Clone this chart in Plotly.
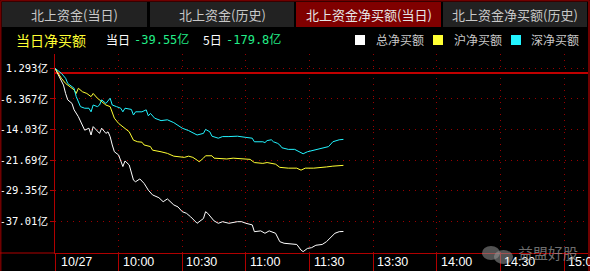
import plotly.graph_objects as go

# ---------------- data (minutes since 09:30 on a 240-minute trading axis, values in 亿) ----------------
total_min = [0, 3, 4, 5, 6, 8, 9, 11, 13, 14, 16, 17, 18, 20, 21, 22, 24, 25, 26, 27, 28, 30, 31, 32, 33, 35,
             37, 38, 40, 42, 44, 46, 49, 51, 53, 56, 58, 60, 62, 64, 67, 68, 70, 71, 72, 75, 77, 79, 82, 86,
             88, 90, 93, 94, 97, 99, 101, 104, 106, 108, 112, 114, 116, 117, 119, 121, 123, 126, 128, 130,
             132, 134, 136]
total_val = [1.29, -1.6, -2.9, -5.0, -6.6, -7.5, -9.1, -10.8, -12.9, -14.2, -13.7, -15.4, -13.3, -14.6, -15.0,
             -13.7, -15.0, -14.6, -15.8, -17.9, -19.6, -20.4, -22.1, -23.3, -21.9, -22.9, -26.7, -27.1, -26.4,
             -27.5, -29.2, -30.4, -31.1, -32.1, -31.4, -32.9, -33.4, -34.6, -35.0, -35.9, -37.5, -37.1, -36.3,
             -34.6, -35.0, -36.9, -37.5, -37.1, -37.5, -37.1, -37.1, -37.5, -37.9, -39.6, -39.4, -40.0, -39.4,
             -40.0, -42.1, -42.5, -42.8, -42.8, -44.2, -44.6, -43.8, -43.6, -43.0, -42.8, -42.1, -41.1, -40.0,
             -39.6, -39.55]

sh_min = [0, 3, 5, 7, 9, 10, 11, 13, 15, 17, 18, 20, 22, 24, 26, 27, 28, 30, 32, 34, 35, 37, 39, 41, 42, 45,
          46, 50, 53, 56, 60, 61, 63, 65, 67, 68, 70, 71, 74, 75, 81, 84, 92, 94, 98, 100, 104, 106, 110, 114,
          116, 118, 122, 125, 128, 131, 134, 136]
sh_val = [1.29, -1.2, -2.5, -3.3, -4.1, -5.0, -3.7, -4.6, -5.0, -5.8, -5.0, -6.2, -7.1, -7.9, -8.3, -10.0,
          -11.2, -12.5, -13.3, -14.1, -14.6, -16.7, -17.1, -17.2, -17.9, -18.3, -19.2, -19.6, -20.0, -20.7,
          -20.8, -21.0, -20.7, -21.0, -21.7, -22.1, -21.2, -20.6, -20.6, -21.2, -21.4, -21.2, -21.5, -22.3,
          -22.5, -22.3, -22.7, -23.5, -23.7, -23.7, -24.2, -23.7, -23.7, -23.6, -23.4, -23.2, -23.1, -23.0]

sz_min = [0, 3, 5, 6, 8, 9, 10, 12, 14, 16, 17, 18, 20, 21, 22, 24, 26, 27, 29, 31, 32, 33, 36, 37, 38, 41,
          43, 44, 45, 47, 50, 53, 56, 58, 60, 63, 65, 67, 70, 71, 73, 74, 77, 79, 82, 86, 90, 93, 94, 98, 99,
          100, 102, 103, 105, 106, 107, 110, 113, 116, 117, 119, 122, 125, 129, 131, 134, 136]
sz_val = [1.29, 0.04, -1.2, -2.5, -3.3, -3.7, -5.8, -8.3, -8.7, -8.7, -9.6, -7.9, -8.3, -7.9, -6.6, -7.5,
          -6.2, -7.9, -8.3, -8.7, -9.6, -8.7, -9.0, -10.4, -9.6, -9.6, -9.1, -10.6, -10.0, -11.2, -11.8,
          -11.6, -12.3, -12.9, -13.7, -14.3, -14.8, -15.4, -15.0, -14.0, -14.6, -15.7, -16.2, -15.8, -15.8,
          -15.7, -16.0, -16.2, -17.1, -17.1, -17.3, -16.8, -16.6, -17.1, -17.5, -17.9, -18.6, -19.0, -19.0,
          -19.7, -20.1, -19.6, -19.2, -18.7, -18.3, -17.1, -16.6, -16.5]

y_ticks = [1.293, -6.367, -14.03, -21.69, -29.35, -37.01]
y_ticklabels = ["1.293亿", "-6.367亿", "-14.03亿", "-21.69亿", "-29.35亿", "-37.01亿"]
x_ticks = [0, 30, 60, 90, 120, 150, 180, 210, 240]
x_ticklabels = ["10/27", "10:00", "10:30", "11:00", "11:30", "13:30", "14:00", "14:30", "15:00"]

tabs = ["北上资金(当日)", "北上资金(历史)", "北上资金净买额(当日)", "北上资金净买额(历史)"]
active_tab = 2
series_names = ["总净买额", "沪净买额", "深净买额"]
series_colors = ["#ffffff", "#ffff33", "#22f4ff"]
today_value = "-39.55亿"
five_day_value = "-179.8亿"

# ---------------- layout geometry ----------------
W, H = 590, 271
L, R, T, B = 55, 588, 54, 253


def px(x):
    return (x - L) / (R - L)


def py(y):
    return (B - y) / (B - T)


RED = "#b00000"
DOT = "#9a0000"
CJK = "Noto Sans CJK SC"

fig = go.Figure()
for xs, ys, name, col in zip([total_min, sh_min, sz_min], [total_val, sh_val, sz_val], series_names, series_colors):
    fig.add_trace(go.Scatter(x=xs, y=ys, mode="lines", name=name, showlegend=False,
                             line=dict(color=col, width=1)))

shapes = []
annotations = []

# outer frame (top/left/right)
for (x0, y0, x1, y1) in [(0.5, 0.5, 589.5, 0.5), (0.5, 0.5, 0.5, 271), (589, 0.5, 589, 271)]:
    shapes.append(dict(type="line", xref="paper", yref="paper", x0=px(x0), y0=py(y0), x1=px(x1), y1=py(y1),
                       line=dict(color="#700000", width=2)))

# tabs
tab_x = [(2, 147), (150, 294), (296, 441), (443, 587)]
for i, (name, (a, b)) in enumerate(zip(tabs, tab_x)):
    shapes.append(dict(type="rect", xref="paper", yref="paper", x0=px(a), x1=px(b), y0=py(27), y1=py(2),
                       fillcolor="#800000" if i == active_tab else "#222222", line=dict(width=0), layer="below"))
    annotations.append(dict(text=name, xref="paper", yref="paper", x=px((a + b) / 2), y=py(15),
                            showarrow=False, xanchor="center", yanchor="middle",
                            font=dict(family=CJK, size=13, color="#e6e6e6" if i == active_tab else "#c8c8c8")))

# header line
hy = py(40)
annotations += [
    dict(text="当日净买额", x=px(14), y=hy, font=dict(family=CJK, size=14, color="#ffff33")),
    dict(text="当日", x=px(104), y=hy, font=dict(family=CJK, size=12, color="#ffffff")),
    dict(text=today_value, x=px(132), y=hy, font=dict(family="DejaVu Sans Mono, " + CJK, size=12, color="#22ee88")),
    dict(text="5日", x=px(201), y=hy, font=dict(family=CJK, size=12, color="#ffffff")),
    dict(text=five_day_value, x=px(224), y=hy, font=dict(family="DejaVu Sans Mono, " + CJK, size=12, color="#22ee88")),
]
for i in range(len(annotations) - 5, len(annotations)):
    annotations[i].update(xref="paper", yref="paper", showarrow=False, xanchor="left", yanchor="middle")

# legend squares and labels
leg_sq = [355, 433, 511]
leg_tx = [375, 453, 530]
for name, col, sx, tx in zip(series_names, series_colors, leg_sq, leg_tx):
    shapes.append(dict(type="rect", xref="paper", yref="paper", x0=px(sx), x1=px(sx + 10), y0=py(45), y1=py(35),
                       fillcolor=col, line=dict(width=0)))
    annotations.append(dict(text=name, xref="paper", yref="paper", x=px(tx - 1), y=hy, showarrow=False,
                            xanchor="left", yanchor="middle", font=dict(family=CJK, size=12, color="#c8c8c8")))

# bottom line extending under y label column
shapes.append(dict(type="line", xref="paper", yref="paper", x0=px(0), x1=px(L), y0=0, y1=0,
                   line=dict(color=RED, width=1)))

# x tick labels (left aligned right of the tick line)
for v, t in zip(x_ticks, x_ticklabels):
    annotations.append(dict(text=t, x=v, xref="x", y=py(262), yref="paper", showarrow=False,
                            xanchor="left", yanchor="middle", xshift=4 if v == 0 else 2,
                            font=dict(family="Liberation Sans", size=12.5, color="#ffffff")))

# watermark
shapes.append(dict(type="circle", xref="paper", yref="paper", x0=px(482), x1=px(500), y0=py(260), y1=py(246),
                   fillcolor="rgba(150,150,150,0.55)", line=dict(width=0)))
shapes.append(dict(type="circle", xref="paper", yref="paper", x0=px(494), x1=px(513), y0=py(264), y1=py(250),
                   fillcolor="rgba(150,150,150,0.55)", line=dict(width=0)))
annotations.append(dict(text="益盟好股", xref="paper", yref="paper", x=px(516), y=py(252), showarrow=False,
                        xanchor="left", yanchor="middle",
                        font=dict(family=CJK, size=15, color="rgba(160,160,160,0.7)")))

fig.update_layout(
    width=W, height=H,
    margin=dict(l=L, r=W - R, t=T, b=H - B, pad=0),
    paper_bgcolor="#000000", plot_bgcolor="#000000",
    shapes=shapes, annotations=annotations,
    showlegend=False,
    xaxis=dict(range=[0, 240 * (R - L) / (564 - L)], tickvals=x_ticks, showticklabels=False,
               ticks="outside", ticklen=H - B, tickcolor=RED, tickwidth=1,
               showgrid=True, gridcolor=DOT, griddash="1px,5px", gridwidth=1,
               showline=True, linecolor=RED, linewidth=1, zeroline=False, automargin=False, fixedrange=True),
    yaxis=dict(range=[1.293 - (B - 68.3) * 0.2503, 1.293 + (68.3 - T) * 0.2503],
               tickvals=y_ticks, ticktext=y_ticklabels,
               ticks="outside", ticklen=4, tickcolor=RED, tickwidth=1,
               tickfont=dict(family="DejaVu Sans Mono, " + CJK, size=10.5, color="#ffffff"),
               showgrid=True, gridcolor=DOT, griddash="1px,5px", gridwidth=1,
               showline=True, linecolor=RED, linewidth=1,
               zeroline=True, zerolinecolor="#c00000", zerolinewidth=1.5, automargin=False, fixedrange=True),
)

fig.write_html("out.html", config={"displayModeBar": False})
